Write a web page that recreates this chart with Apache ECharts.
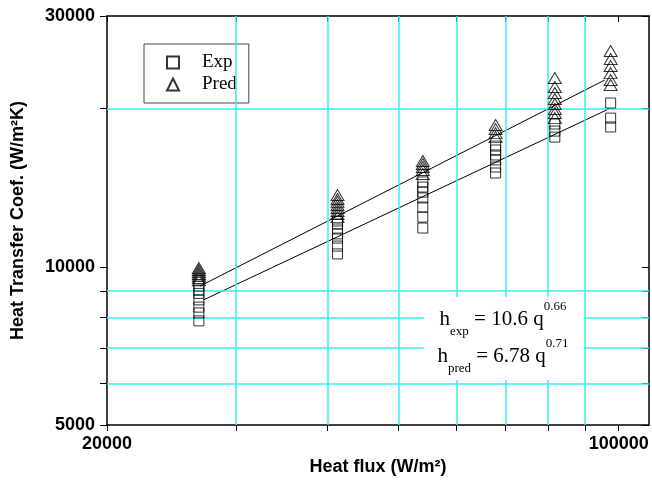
<!DOCTYPE html>
<html>
<head>
<meta charset="utf-8">
<script src="https://cdn.jsdelivr.net/npm/echarts@6/dist/echarts.min.js"></script>
<style>
html, body { margin: 0; padding: 0; background: #fff; }
#chart { width: 652px; height: 481px; }
</style>
</head>
<body>
<div id="chart"></div>
<script>
// heat flux of each test group (W/m2)
var qGroups = [26700, 41300, 54000, 67900, 81800, 97500];
// measured h (W/m2K), one list per group
var expH = [
  [9190, 9030, 8900, 8650, 8380, 8170, 7890],
  [12220, 12060, 11800, 11550, 11340, 10950, 10580],
  [14500, 14180, 13870, 13520, 12990, 12430, 11850],
  [16970, 16680, 16320, 15970, 15480, 15080],
  [18690, 18120, 17650],
  [20490, 19180, 18450]
];
// predicted h (W/m2K)
var predH = [
  [9940, 9860, 9770, 9690, 9600, 9520, 9430],
  [13690, 13460, 13290, 13110, 12940, 12770, 12600, 12430],
  [15900, 15690, 15480, 15280, 15020],
  [18610, 18280, 17960, 17650],
  [22860, 21980, 21410, 20850, 20410, 19960, 19610, 19180],
  [25730, 24850, 24090, 23360, 22660, 22170]
];
// end points of the two fitted lines
var expFit = [[27100, 8650], [97200, 20000]];
var predFit = [[26800, 9190], [95700, 22660]];

var xTicks = [20000, 30000, 40000, 50000, 60000, 70000, 80000, 90000, 100000];
var xLabels = [20000, 100000];
var yTicks = [5000, 6000, 7000, 8000, 9000, 10000, 20000, 30000];
var yLabels = [5000, 10000, 30000];
var xGrid = [30000, 40000, 50000, 60000, 70000, 80000, 90000];
var yGrid = [6000, 7000, 8000, 9000, 20000];

function toPairs(groups) {
  var out = [];
  groups.forEach(function (g, i) {
    g.forEach(function (h) { out.push([qGroups[i], h]); });
  });
  return out;
}

var sans = 'Liberation Sans';
var serif = 'Liberation Serif';
var cyan = '#33eef4';

var chart = echarts.init(document.getElementById('chart'));

var axisLine = { show: true, lineStyle: { color: '#000', width: 1.5 } };
var labelStyle = { color: '#000', fontSize: 18, fontWeight: 'bold', fontFamily: sans };
var plain = function (v) { return String(Math.round(v)); };

var eqRich = {
  m: { fontFamily: serif, fontSize: 21, color: '#000', lineHeight: 36, verticalAlign: 'middle' },
  s: { fontFamily: serif, fontSize: 13, color: '#000', lineHeight: 38, verticalAlign: 'bottom' },
  p: { fontFamily: serif, fontSize: 13, color: '#000', lineHeight: 36, verticalAlign: 'top' }
};

chart.setOption({
  animation: false,
  backgroundColor: '#fff',
  grid: { left: 107, top: 16, right: 3, bottom: 56, containLabel: false, outerBoundsMode: 'none' },
  legend: {
    data: ['Exp', 'Pred'],
    orient: 'vertical',
    left: 144,
    top: 44,
    padding: [9, 12, 9, 22],
    itemGap: 3,
    itemWidth: 12,
    itemHeight: 12,
    borderColor: '#444',
    borderWidth: 1,
    backgroundColor: '#fff',
    textStyle: { fontFamily: serif, fontSize: 19, color: '#000', padding: [0, 0, 0, 18] }
  },
  xAxis: [
    {
      type: 'log', min: 20000, max: 110000, position: 'bottom',
      axisLine: axisLine,
      axisTick: { show: true, customValues: xTicks, length: 6, lineStyle: { color: '#000' } },
      axisLabel: Object.assign({ customValues: xLabels, margin: 10, formatter: plain }, labelStyle),
      splitLine: { show: false },
      name: 'Heat flux (W/m²)', nameLocation: 'middle', nameGap: 32,
      nameTextStyle: labelStyle
    },
    {
      type: 'log', min: 20000, max: 110000, position: 'top',
      axisLine: axisLine,
      axisTick: { show: true, inside: true, customValues: xTicks, length: 6, lineStyle: { color: '#000' } },
      axisLabel: { show: false },
      splitLine: { show: false }
    }
  ],
  yAxis: [
    {
      type: 'log', min: 5000, max: 30000, position: 'left',
      axisLine: axisLine,
      axisTick: { show: true, customValues: yTicks, length: 7, lineStyle: { color: '#000' } },
      axisLabel: Object.assign({ customValues: yLabels, margin: 12, formatter: plain }, labelStyle),
      splitLine: { show: false },
      name: 'Heat Transfer Coef. (W/m²K)', nameLocation: 'middle', nameGap: 80,
      nameTextStyle: labelStyle
    },
    {
      type: 'log', min: 5000, max: 30000, position: 'right',
      axisLine: axisLine,
      axisTick: { show: true, inside: true, customValues: yTicks, length: 7, lineStyle: { color: '#000' } },
      axisLabel: { show: false },
      splitLine: { show: false }
    }
  ],
  series: [
    {
      // carries the cyan grid lines
      name: 'grid', type: 'line', data: [], z: 1, silent: true,
      markLine: {
        silent: true, symbol: 'none', animation: false,
        label: { show: false },
        emphasis: { disabled: true },
        lineStyle: { color: cyan, width: 1.5, type: 'solid', opacity: 1 },
        data: xGrid.map(function (v) { return { xAxis: v }; })
          .concat(yGrid.map(function (v) { return { yAxis: v }; }))
      }
    },
    {
      name: 'expFit', type: 'line', data: expFit, symbol: 'none', z: 3, silent: true,
      lineStyle: { color: '#000', width: 1 }
    },
    {
      name: 'predFit', type: 'line', data: predFit, symbol: 'none', z: 3, silent: true,
      lineStyle: { color: '#000', width: 1 }
    },
    {
      name: 'Exp', type: 'scatter', data: toPairs(expH), z: 5,
      symbol: 'rect', symbolSize: 10,
      itemStyle: { color: 'rgba(0,0,0,0)', borderColor: '#000', borderWidth: 1 }
    },
    {
      name: 'Pred', type: 'scatter', data: toPairs(predH), z: 5,
      symbol: 'triangle', symbolSize: [13, 11],
      itemStyle: { color: 'rgba(0,0,0,0)', borderColor: '#000', borderWidth: 1 }
    }
  ],
  graphic: [
    { type: 'rect', z: 100, shape: { x: 424, y: 297, width: 160, height: 83 }, style: { fill: '#fff' } },
    {
      type: 'text', z: 101,
      style: { x: 503, y: 319, align: 'center', verticalAlign: 'middle',
        text: '{m|h}{s|exp}{m| = 10.6 q}{p|0.66}', rich: eqRich }
    },
    {
      type: 'text', z: 101,
      style: { x: 503, y: 356, align: 'center', verticalAlign: 'middle',
        text: '{m|h}{s|pred}{m| = 6.78 q}{p|0.71}', rich: eqRich }
    }
  ]
});
</script>
</body>
</html>
